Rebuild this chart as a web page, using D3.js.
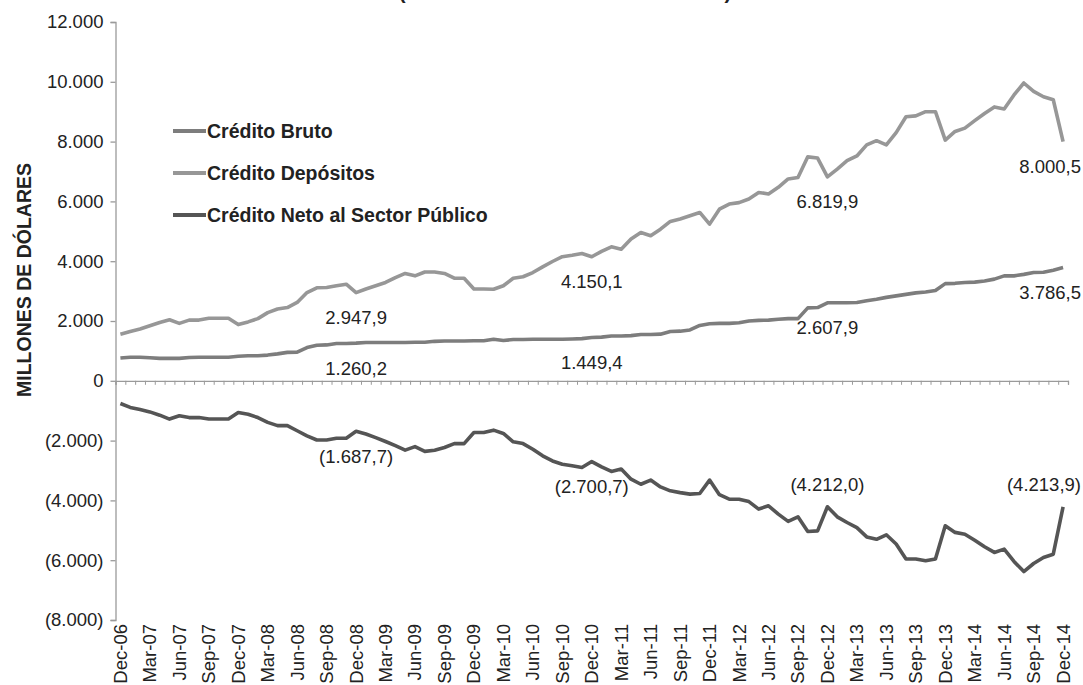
<!DOCTYPE html>
<html>
<head>
<meta charset="utf-8">
<script src="https://cdn.jsdelivr.net/npm/d3@7"></script>
<style>
  body { margin: 0; background: #fff; }
  text { font-family: "Liberation Sans", Arial, sans-serif; fill: #222; }
</style>
</head>
<body>
<svg id="chart" width="1083" height="685"></svg>
<script>
// quarterly tick labels, Dec-06 .. Dec-14 (one point per month in between)
const quarterLabels = ["Dec-06","Mar-07","Jun-07","Sep-07","Dec-07","Mar-08","Jun-08","Sep-08",
  "Dec-08","Mar-09","Jun-09","Sep-09","Dec-09","Mar-10","Jun-10","Sep-10","Dec-10","Mar-11",
  "Jun-11","Sep-11","Dec-11","Mar-12","Jun-12","Sep-12","Dec-12","Mar-13","Jun-13","Sep-13",
  "Dec-13","Mar-14","Jun-14","Sep-14","Dec-14"];

// monthly values, millones de dólares
const bruto = [
  760, 790, 790, 770, 750, 750, 750, 780, 790, 790, 790, 790,
  820, 840, 840, 860, 900, 950, 960, 1110, 1190, 1200, 1250, 1250,
  1260.2, 1280, 1280, 1280, 1280, 1280, 1290, 1290, 1320, 1330, 1330, 1330,
  1340, 1340, 1390, 1350, 1380, 1380, 1390, 1390, 1390, 1390, 1400, 1410,
  1449.4, 1460, 1500, 1500, 1510, 1550, 1550, 1560, 1650, 1660, 1700, 1850,
  1910, 1920, 1920, 1940, 2000, 2020, 2030, 2060, 2080, 2080, 2440, 2450,
  2607.9, 2610, 2610, 2620, 2680, 2730, 2790, 2840, 2890, 2940, 2970, 3020,
  3250, 3260, 3290, 3300, 3340, 3400, 3510, 3510, 3560, 3620, 3630, 3700,
  3786.5];

const depositos = [
  1560, 1650, 1730, 1840, 1950, 2040, 1920, 2030, 2030, 2090, 2090, 2090,
  1880, 1970, 2080, 2280, 2400, 2450, 2620, 2950, 3110, 3120, 3180, 3230,
  2947.9, 3070, 3180, 3290, 3450, 3590, 3510, 3640, 3640, 3590, 3430, 3430,
  3070, 3070, 3060, 3180, 3430, 3480, 3620, 3810, 3990, 4150, 4200, 4260,
  4150.1, 4330, 4480, 4400, 4740, 4960, 4850, 5070, 5330, 5410, 5520, 5630,
  5240, 5740, 5910, 5960, 6080, 6300, 6250, 6470, 6750, 6800, 7490, 7450,
  6819.9, 7080, 7360, 7520, 7890, 8030, 7890, 8300, 8830, 8860, 9000, 9000,
  8050, 8340, 8450, 8700, 8940, 9160, 9090, 9560, 9960, 9680, 9500, 9400,
  8000.5];

const neto = [
  -758, -890, -960, -1040, -1150, -1280, -1170, -1230, -1230, -1280, -1280, -1280,
  -1060, -1120, -1230, -1390, -1500, -1500, -1670, -1840, -1980, -1980, -1920, -1920,
  -1687.7, -1780, -1900, -2030, -2170, -2320, -2200, -2360, -2320, -2230, -2100, -2100,
  -1730, -1730, -1650, -1760, -2040, -2100, -2290, -2510, -2680, -2790, -2840, -2900,
  -2700.7, -2880, -3030, -2950, -3290, -3460, -3320, -3550, -3680, -3740, -3790, -3770,
  -3320, -3810, -3960, -3960, -4040, -4290, -4180, -4460, -4700, -4550, -5040, -5020,
  -4212.0, -4550, -4740, -4910, -5220, -5300, -5150, -5460, -5960, -5960, -6020, -5960,
  -4850, -5070, -5130, -5330, -5550, -5740, -5630, -6040, -6380, -6110, -5910, -5800,
  -4213.9];

const seriesNames = ["Crédito Bruto", "Crédito Depósitos", "Crédito Neto al Sector Público"];
const labelIdx = [24, 48, 72, 96];   // months that carry a value label
const yTicks = [-8000, -6000, -4000, -2000, 0, 2000, 4000, 6000, 8000, 10000, 12000];

const W = 1083, H = 685;
const svg = d3.select("#chart");

const loc = d3.formatLocale({decimal: ",", thousands: ".", grouping: [3], currency: ["", ""]});
const f0 = loc.format(",.0f"), f1 = loc.format(",.1f");
const fmtNum = (v, f) => v < 0 ? "(" + f(-v) + ")" : f(v);

const n = bruto.length;
const x = d3.scaleBand().domain(d3.range(n)).range([115.5, 1068]).padding(0);
const xc = i => x(i) + x.bandwidth() / 2;
const xl = d3.scaleLinear().domain([0, n]).range(x.range());
const y = d3.scaleLinear().domain([-8000, 12000]).range([620, 22]);

const series = [
  {name: seriesNames[1], values: depositos, color: "#979797", place: [1, 1, 1, 1]},
  {name: seriesNames[0], values: bruto, color: "#7d7d7d", place: [1, 1, 1, 1]},
  {name: seriesNames[2], values: neto, color: "#555555", place: [1, 1, -1, -1]}
];

// title (cut off by the top edge in the original)
svg.append("text")
  .attr("x", 565).attr("y", -1)
  .attr("text-anchor", "middle")
  .style("font-size", "20.5px").style("font-weight", "bold")
  .text("(Diciembre 2006 - Diciembre 2014)");

// y axis
const yAxis = svg.append("g")
  .attr("transform", `translate(${x.range()[0]},0)`)
  .call(d3.axisLeft(y).tickValues(yTicks).tickSize(5).tickPadding(7)
    .tickFormat(v => fmtNum(v, f0)));
yAxis.select(".domain").attr("stroke", "#9a9a9a").attr("stroke-width", 1.3);
yAxis.selectAll(".tick line").attr("stroke", "#9a9a9a").attr("stroke-width", 1.3);
yAxis.selectAll(".tick text").style("font-size", "18.5px").attr("fill", "#222");

// zero line with monthly tick marks
const xAxis = svg.append("g")
  .attr("transform", `translate(0,${y(0)})`)
  .call(d3.axisBottom(xl).tickValues(d3.range(n + 1)).tickSize(4).tickFormat(""));
xAxis.select(".domain").attr("stroke", "#9a9a9a").attr("stroke-width", 1.3);
xAxis.selectAll(".tick line").attr("stroke", "#9a9a9a").attr("stroke-width", 1);

// quarterly labels at bottom
svg.append("g").selectAll("text")
  .data(quarterLabels)
  .join("text")
  .attr("transform", (d, k) => `translate(${xc(k * 3)},624) rotate(-90)`)
  .attr("text-anchor", "end")
  .attr("dy", "0.35em")
  .style("font-size", "18.5px")
  .text(d => d);

// y axis title
svg.append("text")
  .attr("transform", "translate(31,280) rotate(-90)")
  .attr("text-anchor", "middle")
  .style("font-size", "19.5px").style("font-weight", "bold")
  .text("MILLONES DE DÓLARES");

// lines
const line = d3.line().x((d, i) => xc(i)).y(d => y(d));
svg.append("g").selectAll("path")
  .data(series)
  .join("path")
  .attr("d", s => line(s.values))
  .attr("fill", "none")
  .attr("stroke", s => s.color)
  .attr("stroke-width", 3.6)
  .attr("stroke-linejoin", "round");

// value labels
series.forEach(s => {
  labelIdx.forEach((idx, k) => {
    const t = svg.append("text")
      .attr("x", xc(idx))
      .attr("y", y(s.values[idx]) + (s.place[k] > 0 ? 25 : -22))
      .attr("dy", "0.35em")
      .attr("text-anchor", "middle")
      .style("font-size", "18.5px")
      .text(fmtNum(s.values[idx], f1));
    const w = t.node().getComputedTextLength();
    if (xc(idx) + w / 2 > W - 2) t.attr("x", W - 2 - w / 2);
  });
});

// legend
const legendOrder = [series[1], series[0], series[2]];
const lg = svg.append("g").selectAll("g")
  .data(legendOrder)
  .join("g")
  .attr("transform", (d, i) => `translate(173,${131 + i * 42})`);
lg.append("line")
  .attr("x1", 0).attr("x2", 33)
  .attr("stroke", d => d.color).attr("stroke-width", 4);
lg.append("text")
  .attr("x", 34).attr("dy", "0.35em")
  .style("font-size", "19.5px").style("font-weight", "bold")
  .text(d => d.name);
</script>
</body>
</html>
